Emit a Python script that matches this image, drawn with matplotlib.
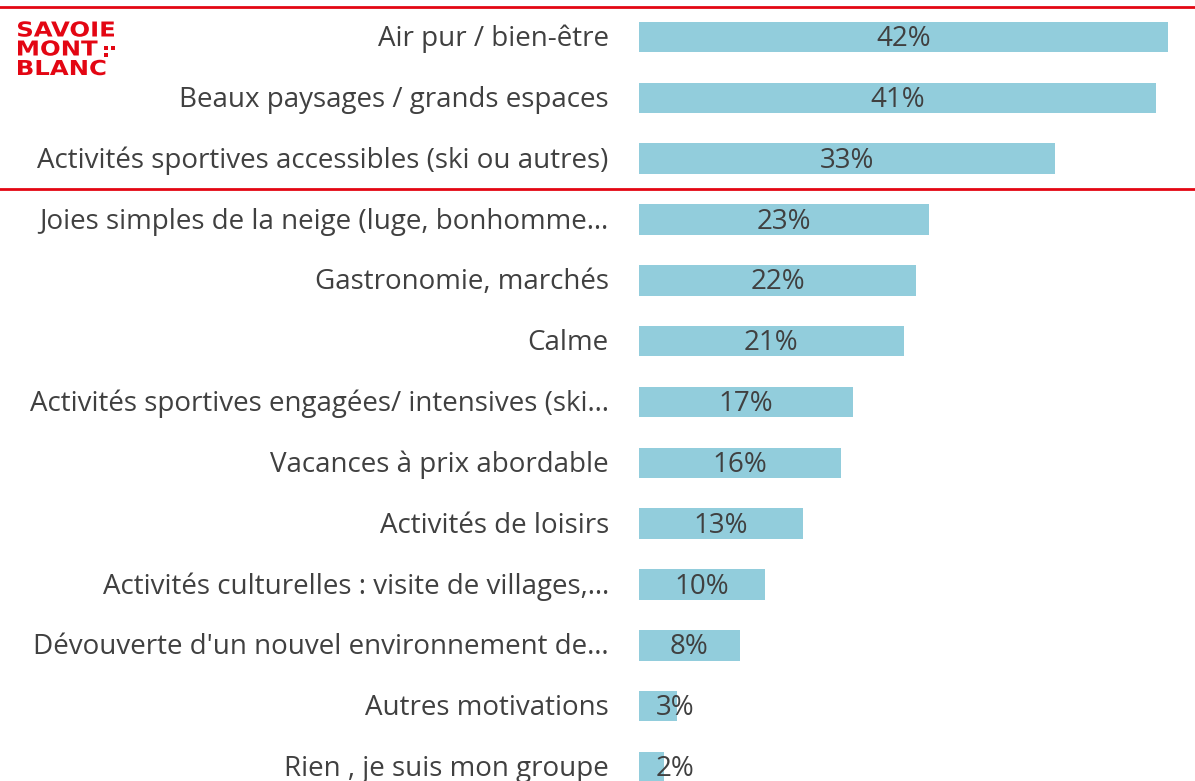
import matplotlib
matplotlib.use("Agg")
import matplotlib.pyplot as plt
from matplotlib.textpath import TextPath
from matplotlib.patches import PathPatch
from matplotlib.transforms import Affine2D, IdentityTransform
from matplotlib.font_manager import FontProperties

categories = [
    "Air pur / bien-être",
    "Beaux paysages / grands espaces",
    "Activités sportives accessibles (ski ou autres)",
    "Joies simples de la neige (luge, bonhomme…",
    "Gastronomie, marchés",
    "Calme",
    "Activités sportives engagées/ intensives (ski…",
    "Vacances à prix abordable",
    "Activités de loisirs",
    "Activités culturelles : visite de villages,…",
    "Dévouverte d'un nouvel environnement de…",
    "Autres motivations",
    "Rien , je suis mon groupe",
]
values = [42, 41, 33, 23, 22, 21, 17, 16, 13, 10, 8, 3, 2]

W, H = 1195, 781
bar_color = "#92CDDC"
text_color = "#404040"
red = "#E30613"
font = "Open Sans"
fs = 20

fig = plt.figure(figsize=(W / 100, H / 100), dpi=100)
x0 = 639 / W
ax = fig.add_axes([x0, 0, 1 - x0, 1])
px_per_pct = 12.6
row = 60.83
ax.set_xlim(0, (W - 639) / px_per_pct)
ax.set_ylim((H - 37) / row, -37 / row)
ax.axis("off")

ys = list(range(len(values)))
ax.barh(ys, values, height=0.5, color=bar_color)

dy = 0.035  # nudge text a little lower, like the original
for y, v, c in zip(ys, values, categories):
    if v < 5:
        ax.text(1.3, y + dy, f"{v}%", ha="left", va="center", fontsize=fs,
                color=text_color, family=font)
    else:
        ax.text(v / 2, y + dy, f"{v}%", ha="center", va="center", fontsize=fs,
                color=text_color, family=font)
    ax.text(-2.4, y + dy, c, ha="right", va="center", fontsize=fs,
            color=text_color, family=font, clip_on=False)

# red frame lines around top 3
for yy in (6.5, 188.5):
    fig.add_artist(plt.Line2D([0, 1], [1 - yy / H, 1 - yy / H],
                              color=red, lw=2, transform=fig.transFigure))

# logo, stretched horizontally
prop = FontProperties(family="DejaVu Sans", weight="bold")
ref = TextPath((0, 0), "SAVOIE", size=1, prop=prop).get_extents()
sx = 96 / ref.width
sy = 15 / 0.73
for word, top in (("SAVOIE", 21.5), ("MONT", 40.5), ("BLANC", 60)):
    tp = TextPath((0, 0), word, size=1, prop=prop)
    ext = tp.get_extents()
    tr = Affine2D().translate(-ext.x0, 0).scale(sx, sy).translate(18, H - top - 15)
    fig.add_artist(PathPatch(tr.transform_path(tp), color=red, lw=0,
                             transform=IdentityTransform()))
for ddx, ddy in ((0, 0), (0, 7), (7, 7)):
    fig.add_artist(plt.Rectangle((104 + ddx, H - 50 + ddy - 7), 4, 4, color=red, lw=0,
                                 transform=IdentityTransform()))

fig.savefig("out.png", dpi=100)
